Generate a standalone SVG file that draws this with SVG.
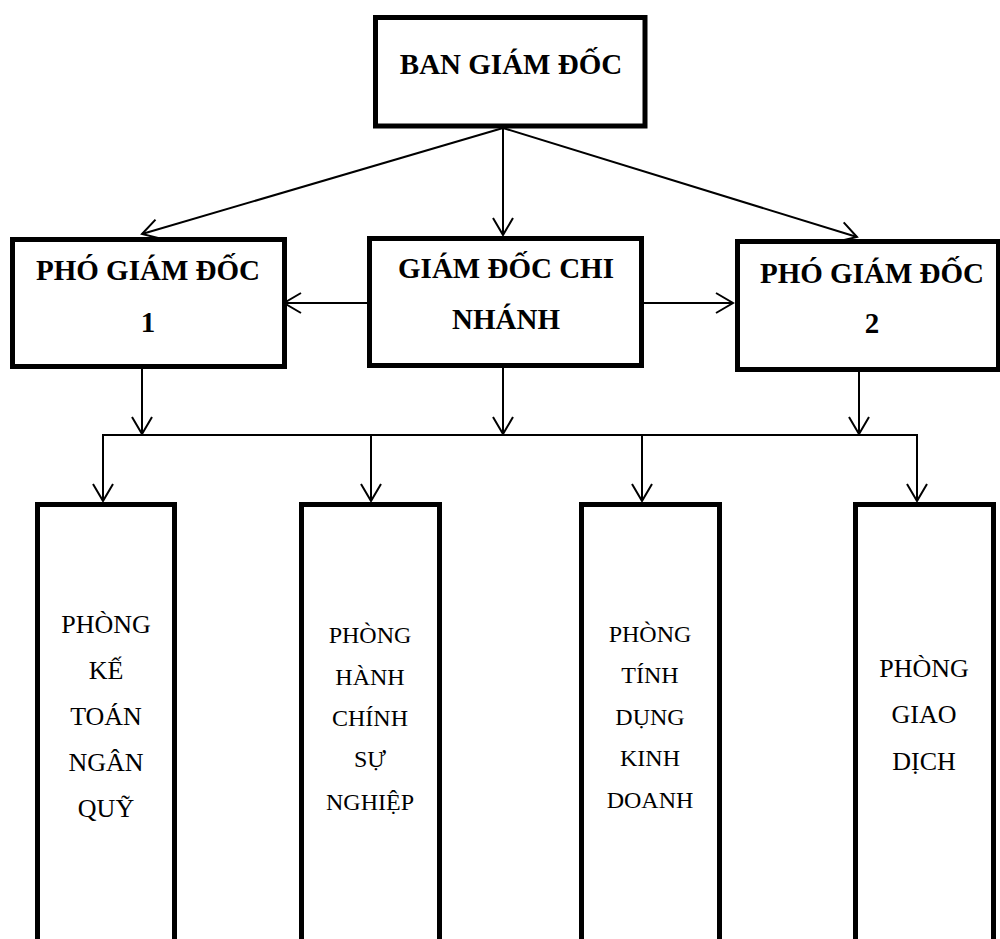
<svg xmlns="http://www.w3.org/2000/svg" width="1000" height="939" viewBox="0 0 1000 939">
<style>
.box{fill:#fff;stroke:#000;stroke-width:5}
.t{font-family:"Liberation Serif","Times New Roman",serif;font-weight:bold;font-size:29px;text-anchor:middle;fill:#000}
.r{font-family:"Liberation Serif","Times New Roman",serif;font-size:26px;text-anchor:middle;fill:#000}
.s{font-size:24px}
.ln{fill:none;stroke:#000;stroke-width:2}
</style>
<defs>
<marker id="ah" markerUnits="userSpaceOnUse" markerWidth="24" markerHeight="24" viewBox="-20 -12 22 24" refX="0" refY="0" orient="auto">
<path d="M-17,-10 L0,0 L-17,10" fill="none" stroke="#000" stroke-width="2"/>
</marker>
</defs>
<rect width="1000" height="939" fill="#fff"/>
<g id="connectors">
<line class="ln" x1="503" y1="128" x2="142" y2="234" marker-end="url(#ah)"/>
<line class="ln" x1="503" y1="128" x2="503" y2="235" marker-end="url(#ah)"/>
<line class="ln" x1="503" y1="128" x2="857" y2="237" marker-end="url(#ah)"/>
<line class="ln" x1="367" y1="303" x2="284" y2="303" marker-end="url(#ah)"/>
<line class="ln" x1="644" y1="303" x2="733" y2="303" marker-end="url(#ah)"/>
<line class="ln" x1="142" y1="369" x2="142" y2="434" marker-end="url(#ah)"/>
<line class="ln" x1="503" y1="368" x2="503" y2="434" marker-end="url(#ah)"/>
<line class="ln" x1="859" y1="372" x2="859" y2="434" marker-end="url(#ah)"/>
<line class="ln" x1="102" y1="435" x2="918" y2="435"/>
<line class="ln" x1="103" y1="435" x2="103" y2="501" marker-end="url(#ah)"/>
<line class="ln" x1="371" y1="435" x2="371" y2="501" marker-end="url(#ah)"/>
<line class="ln" x1="642" y1="435" x2="642" y2="501" marker-end="url(#ah)"/>
<line class="ln" x1="917" y1="435" x2="917" y2="501" marker-end="url(#ah)"/>
</g>
<g id="ban-giam-doc">
<rect class="box" x="375.5" y="17.5" width="269.5" height="108.5"/>
<text class="t" x="511" y="74">BAN GIÁM ĐỐC</text>
</g>
<g id="pho-giam-doc-1">
<rect class="box" x="12.5" y="239.5" width="272" height="127"/>
<text class="t" x="148" y="280">PHÓ GIÁM ĐỐC</text>
<text class="t" x="148" y="332">1</text>
</g>
<g id="giam-doc-chi-nhanh">
<rect class="box" x="369.5" y="238.5" width="272" height="127"/>
<text class="t" x="506" y="278">GIÁM ĐỐC CHI</text>
<text class="t" x="506" y="329">NHÁNH</text>
</g>
<g id="pho-giam-doc-2">
<rect class="box" x="737.5" y="241.5" width="261" height="128"/>
<text class="t" x="872" y="283">PHÓ GIÁM ĐỐC</text>
<text class="t" x="872" y="333">2</text>
</g>
<g id="phong-ke-toan">
<rect class="box" x="37.5" y="504.5" width="137" height="460"/>
<text class="r" x="106" y="633">PHÒNG</text>
<text class="r" x="106" y="679">KẾ</text>
<text class="r" x="106" y="725">TOÁN</text>
<text class="r" x="106" y="771">NGÂN</text>
<text class="r" x="106" y="817">QUỸ</text>
</g>
<g id="phong-hanh-chinh">
<rect class="box" x="301.5" y="504.5" width="138" height="460"/>
<text class="r s" x="370" y="643">PHÒNG</text>
<text class="r s" x="370" y="685">HÀNH</text>
<text class="r s" x="370" y="726">CHÍNH</text>
<text class="r s" x="370" y="767">SỰ</text>
<text class="r s" x="370" y="810">NGHIỆP</text>
</g>
<g id="phong-tin-dung">
<rect class="box" x="581.5" y="504.5" width="138" height="460"/>
<text class="r s" x="650" y="642">PHÒNG</text>
<text class="r s" x="650" y="683">TÍNH</text>
<text class="r s" x="650" y="725">DỤNG</text>
<text class="r s" x="650" y="766">KINH</text>
<text class="r s" x="650" y="808">DOANH</text>
</g>
<g id="phong-giao-dich">
<rect class="box" x="855.5" y="504.5" width="138" height="460"/>
<text class="r" x="924" y="677">PHÒNG</text>
<text class="r" x="924" y="723">GIAO</text>
<text class="r" x="924" y="770">DỊCH</text>
</g>
</svg>
